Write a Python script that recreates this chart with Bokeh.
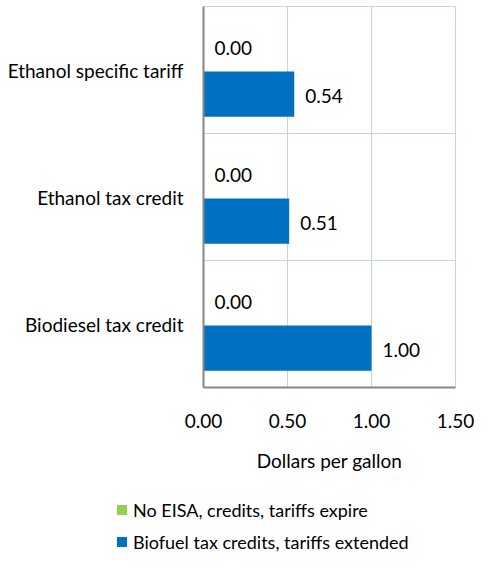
from bokeh.plotting import figure
from bokeh.layouts import column
from bokeh.models import Range1d, FixedTicker, ColumnDataSource, Div
from bokeh.core.properties import value
from bokeh.embed import file_html
from bokeh.resources import INLINE

categories = ["Ethanol specific tariff", "Ethanol tax credit", "Biodiesel tax credit"]
no_eisa = [0.00, 0.00, 0.00]
extended = [0.54, 0.51, 1.00]
x_ticks = [0.0, 0.5, 1.0, 1.5]
x_tick_labels = ["0.00", "0.50", "1.00", "1.50"]
series_names = ["No EISA, credits, tariffs expire", "Biofuel tax credits, tariffs extended"]
colors = ["#92D050", "#0070C0"]

FONT = "Lato"
FS = "19px"
GRID = "#C5D3EC"
AXIS = "#868686"

n = len(categories)
ypos = [n - 1 - i + 0.5 for i in range(n)]
off = 0.19
h = 0.355

p = figure(width=474, height=490, output_backend="svg", toolbar_location=None,
           x_range=Range1d(0, 1.5), y_range=Range1d(0, 3),
           min_border_left=203, min_border_right=19, min_border_top=6,
           min_border_bottom=103)
p.frame_width = 252
p.frame_height = 381

src_g = ColumnDataSource(dict(y=[v + off for v in ypos], x=no_eisa,
                              t=["%.2f" % v for v in no_eisa]))
src_b = ColumnDataSource(dict(y=[v - off for v in ypos], x=extended,
                              t=["%.2f" % v for v in extended]))

p.hbar(y="y", left=0, right="x", height=h, source=src_g,
       fill_color=colors[0], line_color=None, legend_label=series_names[0])
p.hbar(y="y", left=0, right="x", height=h, source=src_b,
       fill_color=colors[1], line_color=None, legend_label=series_names[1])
p.legend.visible = False

for s in (src_g, src_b):
    p.text(x="x", y="y", text="t", source=s, x_offset=11, y_offset=2,
           text_align="left", text_baseline="middle", text_font=value(FONT),
           text_font_size=FS, text_color="#000000")

# grids
p.xgrid.ticker = FixedTicker(ticks=x_ticks)
p.xgrid.grid_line_color = GRID
p.ygrid.ticker = FixedTicker(ticks=[0, 1, 2, 3])
p.ygrid.grid_line_color = GRID
p.outline_line_color = GRID

# x axis
p.xaxis.ticker = FixedTicker(ticks=x_ticks)
p.xaxis.major_label_overrides = {t: l for t, l in zip(x_ticks, x_tick_labels)}
p.xaxis.major_tick_line_color = None
p.xaxis.minor_tick_line_color = None
p.xaxis.axis_line_color = AXIS
p.xaxis.axis_line_width = 2
p.xaxis.major_label_standoff = 20
p.xaxis.major_label_text_font = FONT
p.xaxis.major_label_text_font_size = FS
p.xaxis.major_label_text_color = "#000000"
p.xaxis.axis_label = "Dollars per gallon"
p.xaxis.axis_label_text_font = FONT
p.xaxis.axis_label_text_font_size = FS
p.xaxis.axis_label_text_font_style = "normal"
p.xaxis.axis_label_text_color = "#000000"
p.xaxis.axis_label_standoff = 18

# y axis
p.yaxis.ticker = FixedTicker(ticks=ypos)
p.yaxis.major_label_overrides = {y: c for y, c in zip(ypos, categories)}
p.yaxis.major_tick_line_color = None
p.yaxis.minor_tick_line_color = None
p.yaxis.axis_line_color = AXIS
p.yaxis.axis_line_width = 2
p.yaxis.major_label_standoff = 14
p.yaxis.major_label_text_font = FONT
p.yaxis.major_label_text_font_size = FS
p.yaxis.major_label_text_color = "#000000"

# legend (HTML, below the plot)
rows = []
for i, (name, col) in enumerate(zip(series_names, colors)):
    mt = 10 if i == 0 else 12
    rows.append(
        '<div style="display:flex;align-items:center;height:20px;'
        'margin-top:%dpx;padding-left:117px;white-space:nowrap;">'
        '<span style="display:inline-block;width:10px;height:10px;'
        'background:%s;margin-right:6px;"></span>%s</div>' % (mt, col, name))
legend_div = Div(text='<div style="font-family:Lato;font-size:18px;color:#000000;'
                      'line-height:20px;">' + "".join(rows) + '</div>',
                 width=474, height=62, margin=0)

layout = column(p, legend_div, spacing=0)
open("out.html", "w").write(file_html(layout, INLINE))
